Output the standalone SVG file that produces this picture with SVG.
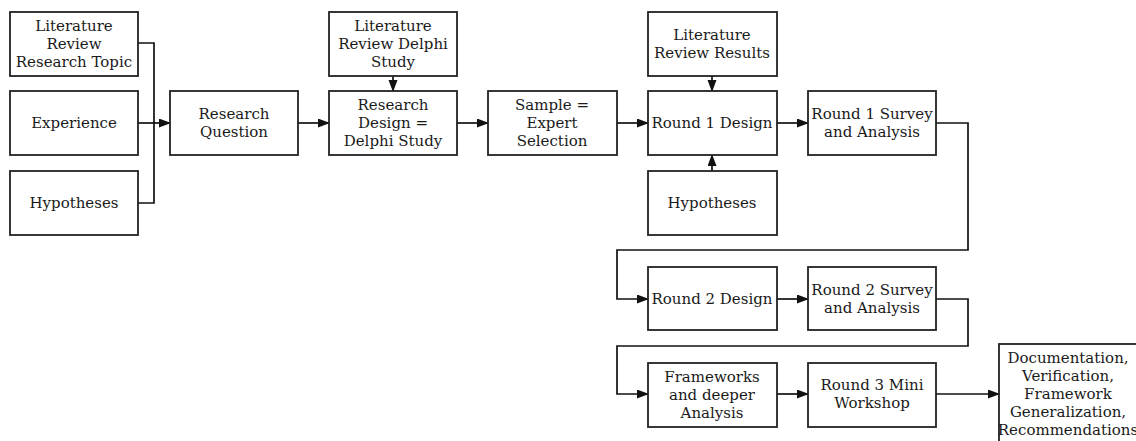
<svg xmlns="http://www.w3.org/2000/svg" width="1136" height="441" viewBox="0 0 1136 441">
<style>
rect.n{fill:#fff;stroke:#222;stroke-width:1.8}
text{font-family:"DejaVu Serif","Liberation Serif",serif;font-size:15px;fill:#1a1a1a;text-anchor:middle}
.c path{fill:none;stroke:#111;stroke-width:1.7}
</style>
<defs>
<marker id="a" markerUnits="userSpaceOnUse" markerWidth="12" markerHeight="10" refX="11" refY="4.5" orient="auto">
<path d="M0,0 L12,4.5 L0,9 z" fill="#111"/>
</marker>
</defs>
<rect width="1136" height="441" fill="#fff"/>
<g class="c">
<path d="M138,43 H154 V203 H138"/>
<path d="M138,123 H170" marker-end="url(#a)"/>
<path d="M298,123 H329" marker-end="url(#a)"/>
<path d="M393,76 V91" marker-end="url(#a)"/>
<path d="M457,123 H488" marker-end="url(#a)"/>
<path d="M617,123 H648" marker-end="url(#a)"/>
<path d="M712,76 V91" marker-end="url(#a)"/>
<path d="M712,171 V155" marker-end="url(#a)"/>
<path d="M777,123 H808" marker-end="url(#a)"/>
<path d="M936,123 H968 V250 H617 V299 H648" marker-end="url(#a)"/>
<path d="M777,299 H808" marker-end="url(#a)"/>
<path d="M936,299 H968 V346 H617 V394 H648" marker-end="url(#a)"/>
<path d="M777,394 H808" marker-end="url(#a)"/>
<path d="M936,394 H999" marker-end="url(#a)"/>
</g>
<g id="litTopic"><rect class="n" x="10" y="12" width="128" height="64"/><text x="74" y="31">Literature</text><text x="74" y="49">Review</text><text x="74" y="67">Research Topic</text></g>
<g id="experience"><rect class="n" x="10" y="91" width="128" height="64"/><text x="74" y="128">Experience</text></g>
<g id="hyp1"><rect class="n" x="10" y="171" width="128" height="64"/><text x="74" y="208">Hypotheses</text></g>
<g id="rq"><rect class="n" x="170" y="91" width="128" height="64"/><text x="234" y="119">Research</text><text x="234" y="137">Question</text></g>
<g id="litDelphi"><rect class="n" x="329" y="12" width="128" height="64"/><text x="393" y="31">Literature</text><text x="393" y="49">Review Delphi</text><text x="393" y="67">Study</text></g>
<g id="rd"><rect class="n" x="329" y="91" width="128" height="64"/><text x="393" y="110">Research</text><text x="393" y="128">Design =</text><text x="393" y="146">Delphi Study</text></g>
<g id="sample"><rect class="n" x="488" y="91" width="129" height="64"/><text x="552" y="110">Sample =</text><text x="552" y="128">Expert</text><text x="552" y="146">Selection</text></g>
<g id="litResults"><rect class="n" x="648" y="12" width="129" height="64"/><text x="712" y="40">Literature</text><text x="712" y="58">Review Results</text></g>
<g id="r1d"><rect class="n" x="648" y="91" width="129" height="64"/><text x="712" y="128">Round 1 Design</text></g>
<g id="hyp2"><rect class="n" x="648" y="171" width="129" height="64"/><text x="712" y="208">Hypotheses</text></g>
<g id="r1s"><rect class="n" x="808" y="91" width="128" height="64"/><text x="872" y="119">Round 1 Survey</text><text x="872" y="137">and Analysis</text></g>
<g id="r2d"><rect class="n" x="648" y="267" width="129" height="63"/><text x="712" y="304">Round 2 Design</text></g>
<g id="r2s"><rect class="n" x="808" y="267" width="128" height="63"/><text x="872" y="295">Round 2 Survey</text><text x="872" y="313">and Analysis</text></g>
<g id="fw"><rect class="n" x="648" y="363" width="129" height="64"/><text x="712" y="382">Frameworks</text><text x="712" y="400">and deeper</text><text x="712" y="418">Analysis</text></g>
<g id="r3"><rect class="n" x="808" y="363" width="128" height="64"/><text x="872" y="390">Round 3 Mini</text><text x="872" y="408">Workshop</text></g>
<g id="doc"><rect class="n" x="999" y="344" width="140" height="104"/><text x="1068" y="363">Documentation,</text><text x="1068" y="381">Verification,</text><text x="1068" y="399">Framework</text><text x="1068" y="417">Generalization,</text><text x="1068" y="435">Recommendations</text></g>
</svg>
